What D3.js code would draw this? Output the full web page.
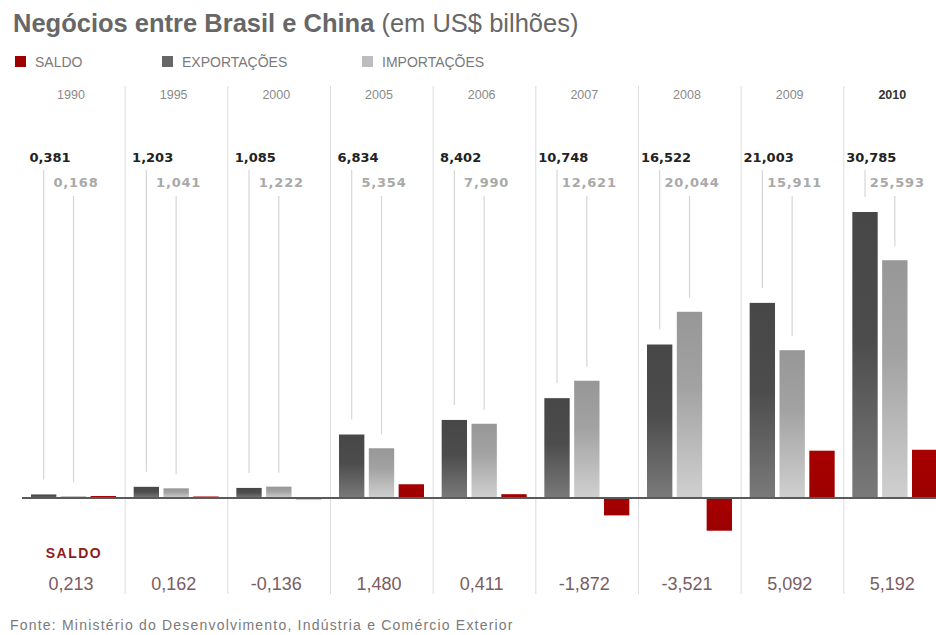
<!DOCTYPE html>
<html>
<head>
<meta charset="utf-8">
<script src="https://cdn.jsdelivr.net/npm/d3@7"></script>
<style>
  html, body { margin: 0; padding: 0; background: #fff; }
  svg { display: block; }
</style>
</head>
<body>
<svg id="chart" width="936" height="635"></svg>
<script>
// Brasil–China trade, US$ billions
const years = ["1990", "1995", "2000", "2005", "2006", "2007", "2008", "2009", "2010"];
const exportacoes = [0.381, 1.203, 1.085, 6.834, 8.402, 10.748, 16.522, 21.003, 30.785];
const importacoes = [0.168, 1.041, 1.222, 5.354, 7.990, 12.621, 20.044, 15.911, 25.593];
const saldo = [0.213, 0.162, -0.136, 1.480, 0.411, -1.872, -3.521, 5.092, 5.192];
const legendItems = ["SALDO", "EXPORTAÇÕES", "IMPORTAÇÕES"];

const svg = d3.select("#chart");
const fmt = v => d3.format(".3f")(v).replace(".", ",").replace("−", "-");

// Gradients for the bars
const defs = svg.append("defs");
function grad(id, stops) {
  const g = defs.append("linearGradient").attr("id", id)
    .attr("x1", 0).attr("y1", 0).attr("x2", 0).attr("y2", 1);
  stops.forEach(([o, c]) => g.append("stop").attr("offset", o).attr("stop-color", c));
}
grad("gExp", [[0, "#474747"], [0.45, "#4c4c4c"], [1, "#7a7a7a"]]);
grad("gImp", [[0, "#979797"], [0.4, "#a2a2a2"], [1, "#d0d0d0"]]);
grad("gSal", [[0, "#a80000"], [1, "#9c0000"]]);

// Title
const title = svg.append("text").attr("x", 13).attr("y", 32)
  .attr("font-family", "Liberation Sans, Arial, sans-serif").attr("font-size", 25.5)
  .attr("fill", "#676767");
title.append("tspan").attr("font-weight", "bold").text("Negócios entre Brasil e China");
title.append("tspan").text(" (em US$ bilhões)");

// Legend
const legendX = d3.scaleOrdinal().domain(legendItems).range([15, 162, 362]);
const legendFill = d3.scaleOrdinal().domain(legendItems).range(["#9e0000", "#666", "#bdbdbd"]);
const lg = svg.append("g").selectAll("g").data(legendItems).join("g")
  .attr("transform", d => `translate(${legendX(d)},56)`);
lg.append("rect").attr("width", 11).attr("height", 11).attr("fill", d => legendFill(d));
lg.append("text").attr("x", 20).attr("y", 10.5)
  .attr("font-family", "Liberation Sans, Arial, sans-serif").attr("font-size", 14)
  .attr("fill", "#7a7a7a").text(d => d);

// Scales
const x = d3.scaleBand().domain(years).range([22, 946]).paddingInner(0).paddingOuter(0);
const sub = d3.scaleBand().domain(["exp", "imp", "sal"]).range([9, 94]).paddingInner(0.15);
const y = d3.scaleLinear().domain([0, 30.785]).range([498, 212]);

// Column separators
svg.append("g").selectAll("line").data(years.slice(1)).join("line")
  .attr("x1", d => x(d) + 0.5).attr("x2", d => x(d) + 0.5)
  .attr("y1", 86).attr("y2", 594)
  .attr("stroke", "#dcdcdc").attr("stroke-width", 1);

// Year labels
svg.append("g").selectAll("text").data(years).join("text")
  .attr("x", d => x(d) + 49).attr("y", 99)
  .attr("text-anchor", "middle")
  .attr("font-family", "Liberation Sans, Arial, sans-serif").attr("font-size", 12.5)
  .attr("font-weight", d => d === "2010" ? "bold" : "normal")
  .attr("fill", d => d === "2010" ? "#333" : "#8a8a8a")
  .text(d => d);

const rows = years.map((yr, i) => ({ yr, exp: exportacoes[i], imp: importacoes[i], sal: saldo[i] }));

// Leader lines from value labels down to the bars
const leaders = svg.append("g").attr("stroke", "#d6d6d6").attr("stroke-width", 1.2);
leaders.selectAll("line.e").data(rows).join("line").attr("class", "e")
  .attr("x1", d => x(d.yr) + sub("exp") + sub.bandwidth() / 2)
  .attr("x2", d => x(d.yr) + sub("exp") + sub.bandwidth() / 2)
  .attr("y1", 170).attr("y2", d => y(d.exp) - 15);
leaders.selectAll("line.i").data(rows).join("line").attr("class", "i")
  .attr("x1", d => x(d.yr) + sub("imp") + sub.bandwidth() / 2)
  .attr("x2", d => x(d.yr) + sub("imp") + sub.bandwidth() / 2)
  .attr("y1", 196).attr("y2", d => y(d.imp) - 14);

// Value labels
svg.append("g").selectAll("text").data(rows).join("text")
  .attr("x", d => x(d.yr) + 28).attr("y", 162)
  .attr("text-anchor", "middle")
  .attr("font-family", "DejaVu Sans, Verdana, sans-serif").attr("font-size", 13)
  .attr("font-weight", "bold").attr("fill", "#222")
  .text(d => fmt(d.exp));
svg.append("g").selectAll("text").data(rows).join("text")
  .attr("x", d => x(d.yr) + 54).attr("y", 187)
  .attr("text-anchor", "middle")
  .attr("font-family", "DejaVu Sans, Verdana, sans-serif").attr("font-size", 13)
  .attr("font-weight", "bold").attr("fill", "#a9a9a9").attr("letter-spacing", 0.8)
  .text(d => fmt(d.imp));

// Bars
const bars = svg.append("g");
bars.selectAll("rect.exp").data(rows).join("rect").attr("class", "exp")
  .attr("x", d => x(d.yr) + sub("exp")).attr("width", sub.bandwidth())
  .attr("y", d => y(d.exp)).attr("height", d => y(0) - y(d.exp))
  .attr("fill", "url(#gExp)");
bars.selectAll("rect.imp").data(rows).join("rect").attr("class", "imp")
  .attr("x", d => x(d.yr) + sub("imp")).attr("width", sub.bandwidth())
  .attr("y", d => y(d.imp)).attr("height", d => y(0) - y(d.imp))
  .attr("fill", "url(#gImp)");
bars.selectAll("rect.sal").data(rows).join("rect").attr("class", "sal")
  .attr("x", d => x(d.yr) + sub("sal")).attr("width", sub.bandwidth())
  .attr("y", d => Math.min(y(d.sal), y(0))).attr("height", d => Math.abs(y(0) - y(d.sal)))
  .attr("fill", "url(#gSal)");

// Baseline
svg.append("line").attr("x1", 22).attr("x2", 936).attr("y1", y(0)).attr("y2", y(0))
  .attr("stroke", "#5a5a5a").attr("stroke-width", 2);

// Saldo row
svg.append("text").attr("x", 74).attr("y", 558).attr("text-anchor", "middle")
  .attr("font-family", "Liberation Sans, Arial, sans-serif").attr("font-size", 14)
  .attr("font-weight", "bold").attr("letter-spacing", 1.5).attr("fill", "#8e1c22")
  .text("SALDO");
svg.append("g").selectAll("text").data(rows).join("text")
  .attr("x", d => x(d.yr) + 49).attr("y", 590)
  .attr("text-anchor", "middle")
  .attr("font-family", "Liberation Sans, Arial, sans-serif").attr("font-size", 18)
  .attr("fill", "#7b5c63")
  .text(d => fmt(d.sal));

// Source
svg.append("text").attr("x", 10).attr("y", 630)
  .attr("font-family", "Liberation Sans, Arial, sans-serif").attr("font-size", 14)
  .attr("letter-spacing", 1.2)
  .attr("fill", "#7a7a7a")
  .text("Fonte: Ministério do Desenvolvimento, Indústria e Comércio Exterior");
</script>
</body>
</html>
